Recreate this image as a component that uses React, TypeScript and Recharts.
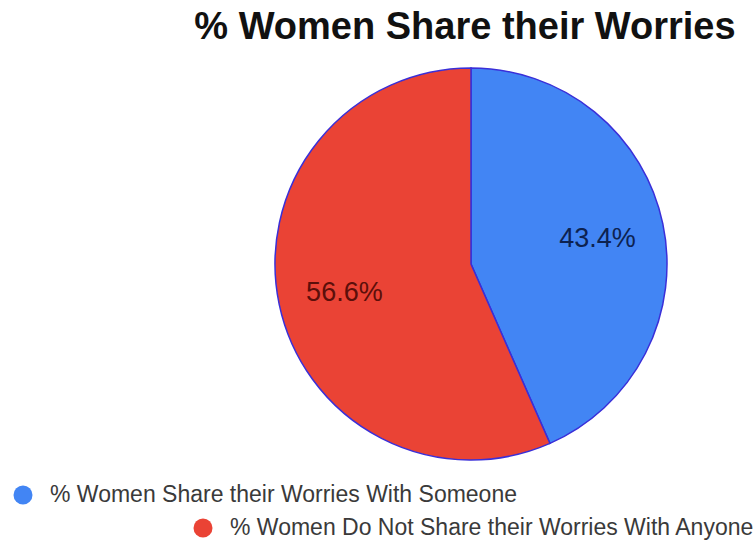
import React from "react";
import { PieChart, Pie, Cell } from "recharts";

const categories = [
  "% Women Share their Worries With Someone",
  "% Women Do Not Share their Worries With Anyone",
];
const values = [43.4, 56.6];
const colors = ["#4285f4", "#ea4335"];
const labelColors = ["#0d2250", "#5c0f0a"];
const title = "% Women Share their Worries";

const data = categories.map((name, i) => ({ name, value: values[i] }));

const RAD = Math.PI / 180;
const FONT = "'Liberation Sans', Arial, sans-serif";

const renderLabel = (props: any) => {
  const { cx, cy, midAngle, outerRadius, index, percent } = props;
  const r = outerRadius * 0.66;
  const x = cx + r * Math.cos(-midAngle * RAD);
  const y = cy + r * Math.sin(-midAngle * RAD);
  return (
    <text
      x={x}
      y={y + 1}
      fill={labelColors[index]}
      textAnchor="middle"
      dominantBaseline="central"
      fontFamily={FONT}
      fontSize={27}
    >
      {(percent * 100).toFixed(1)}%
    </text>
  );
};

const LegendBlock = () => {
  const indents = [13, 193];
  return (
    <div
      style={{
        position: "absolute",
        left: 0,
        top: 478,
        width: 755,
        fontFamily: FONT,
      }}
    >
      {categories.map((name, i) => (
        <div
          key={name}
          style={{
            display: "flex",
            alignItems: "center",
            height: 33,
            marginLeft: indents[i] ?? 0,
            whiteSpace: "nowrap",
          }}
        >
          <svg width={20} height={20} style={{ marginRight: 17, flex: "none" }}>
            <circle cx={10} cy={10} r={9.5} fill={colors[i]} />
          </svg>
          <span style={{ color: "#3a3a3a", fontSize: 23 }}>{name}</span>
        </div>
      ))}
    </div>
  );
};

export default function App() {
  return (
    <div
      style={{
        position: "absolute",
        left: 0,
        top: 0,
        width: 755,
        height: 546,
        background: "#fff",
        overflow: "hidden",
      }}
    >
      <div
        style={{
          position: "absolute",
          left: 0,
          width: 755,
          top: 5,
          paddingLeft: 175,
          boxSizing: "border-box",
          textAlign: "center",
          fontFamily: FONT,
          fontWeight: "bold",
          fontSize: 38,
          color: "#111",
          zIndex: 2,
          whiteSpace: "nowrap",
        }}
      >
        {title}
      </div>
      <PieChart width={755} height={546} margin={{ top: 0, right: 0, bottom: 0, left: 0 }}>
        <Pie
          data={data}
          dataKey="value"
          nameKey="name"
          cx={471}
          cy={264}
          outerRadius={196}
          startAngle={90}
          endAngle={-270}
          stroke="#3a2fd8"
          strokeWidth={1.5}
          label={renderLabel}
          labelLine={false}
          isAnimationActive={false}
        >
          {data.map((d, i) => (
            <Cell key={d.name} fill={colors[i]} />
          ))}
        </Pie>
      </PieChart>
      <LegendBlock />
    </div>
  );
}
